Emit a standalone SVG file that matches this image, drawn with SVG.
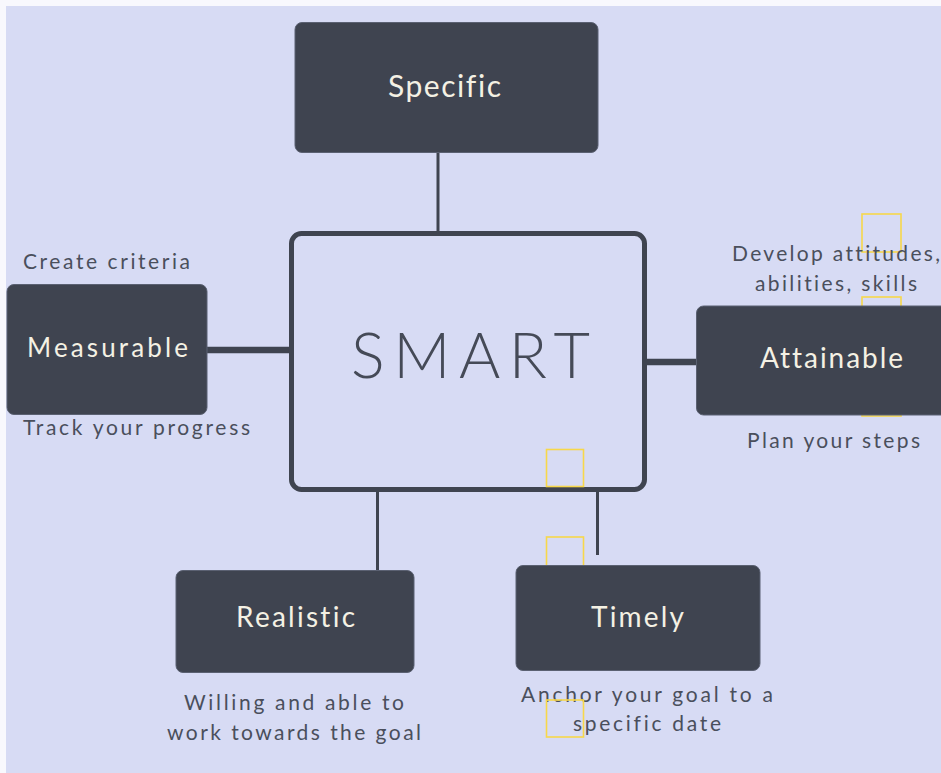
<svg xmlns="http://www.w3.org/2000/svg" width="941" height="773" viewBox="0 0 941 773">
  <style>
    text { font-variant-ligatures: none; font-feature-settings: "liga" 0, "clig" 0; }
    .box { fill: #3f4450; stroke: #5b6172; stroke-width: 1; }
    .label { font-family: Lato, "Open Sans", "DejaVu Sans", sans-serif; fill: #f4f1e4; }
    .note { font-family: Lato, "Open Sans", "DejaVu Sans", sans-serif; font-size: 21px; fill: #4a4f5c; }
    .link { stroke: #3f4450; fill: none; }
    .mark { fill: none; stroke: #f7d84a; stroke-width: 1.6; }
  </style>

  <!-- page -->
  <rect x="0" y="0" width="941" height="773" fill="#f8f8fd"/>
  <rect x="6" y="6" width="935" height="767" fill="#d7dbf4"/>

  <!-- marker squares lying underneath the boxes -->
  <g id="marks">
    <rect class="mark" x="862" y="214" width="39" height="38"/>
    <rect class="mark" x="862" y="297" width="39" height="119"/>
    <rect class="mark" x="546.5" y="537" width="37" height="40"/>
  </g>

  <!-- connectors -->
  <g id="connectors">
    <line class="link" x1="438" y1="152" x2="438" y2="232" stroke-width="3"/>
    <line class="link" x1="207" y1="350" x2="290" y2="350" stroke-width="6.5"/>
    <line class="link" x1="646" y1="362" x2="697" y2="362" stroke-width="6.5"/>
    <line class="link" x1="377.5" y1="490" x2="377.5" y2="571" stroke-width="3"/>
    <line class="link" x1="597.5" y1="490" x2="597.5" y2="555" stroke-width="3"/>
  </g>

  <g id="smart">
    <rect x="291.5" y="233.5" width="353" height="256" rx="10" fill="#d7dbf4" stroke="#3f4450" stroke-width="5"/>
    <rect class="mark" x="546.5" y="449.5" width="37" height="37"/>
    <text x="351" y="378" font-family="Lato, 'Open Sans', 'DejaVu Sans', sans-serif" font-weight="300" font-size="63" fill="#454a57" textLength="239" lengthAdjust="spacing">SMART</text>
  </g>

  <g id="specific">
    <rect class="box" x="295" y="22.5" width="303" height="130" rx="7"/>
    <text class="label" x="388" y="97" font-size="30" textLength="113" lengthAdjust="spacing">Specific</text>
  </g>

  <g id="measurable">
    <rect class="box" x="7" y="284.5" width="200" height="130" rx="7"/>
    <text class="label" x="27" y="357" font-size="26" textLength="161" lengthAdjust="spacing">Measurable</text>
    <text class="note" x="23" y="269" textLength="167" lengthAdjust="spacing">Create criteria</text>
    <text class="note" x="23" y="435" textLength="227" lengthAdjust="spacing">Track your progress</text>
  </g>

  <g id="attainable">
    <rect class="box" x="696.5" y="306" width="260" height="109" rx="7"/>
    <text class="label" x="760" y="368" font-size="28" textLength="143" lengthAdjust="spacing">Attainable</text>
    <text class="note" x="732" y="261" textLength="208" lengthAdjust="spacing">Develop attitudes,</text>
    <text class="note" x="755" y="291" textLength="162" lengthAdjust="spacing">abilities, skills</text>
    <text class="note" x="747" y="448" textLength="173" lengthAdjust="spacing">Plan your steps</text>
  </g>

  <g id="realistic">
    <rect class="box" x="176" y="570.5" width="238" height="102" rx="7"/>
    <text class="label" x="236" y="627" font-size="28" textLength="119" lengthAdjust="spacing">Realistic</text>
    <text class="note" x="184" y="710" textLength="220" lengthAdjust="spacing">Willing and able to</text>
    <text class="note" x="167" y="740" textLength="254" lengthAdjust="spacing">work towards the goal</text>
  </g>

  <g id="timely">
    <rect class="box" x="516" y="565.5" width="244" height="105" rx="7"/>
    <text class="label" x="591" y="627" font-size="28" textLength="93" lengthAdjust="spacing">Timely</text>
    <text class="note" x="521" y="702" textLength="252" lengthAdjust="spacing">Anchor your goal to a</text>
    <text class="note" x="573" y="731" textLength="148" lengthAdjust="spacing">specific date</text>
  </g>

  <!-- square over the date caption -->
  <rect class="mark" x="546.5" y="700" width="37" height="37"/>
</svg>
